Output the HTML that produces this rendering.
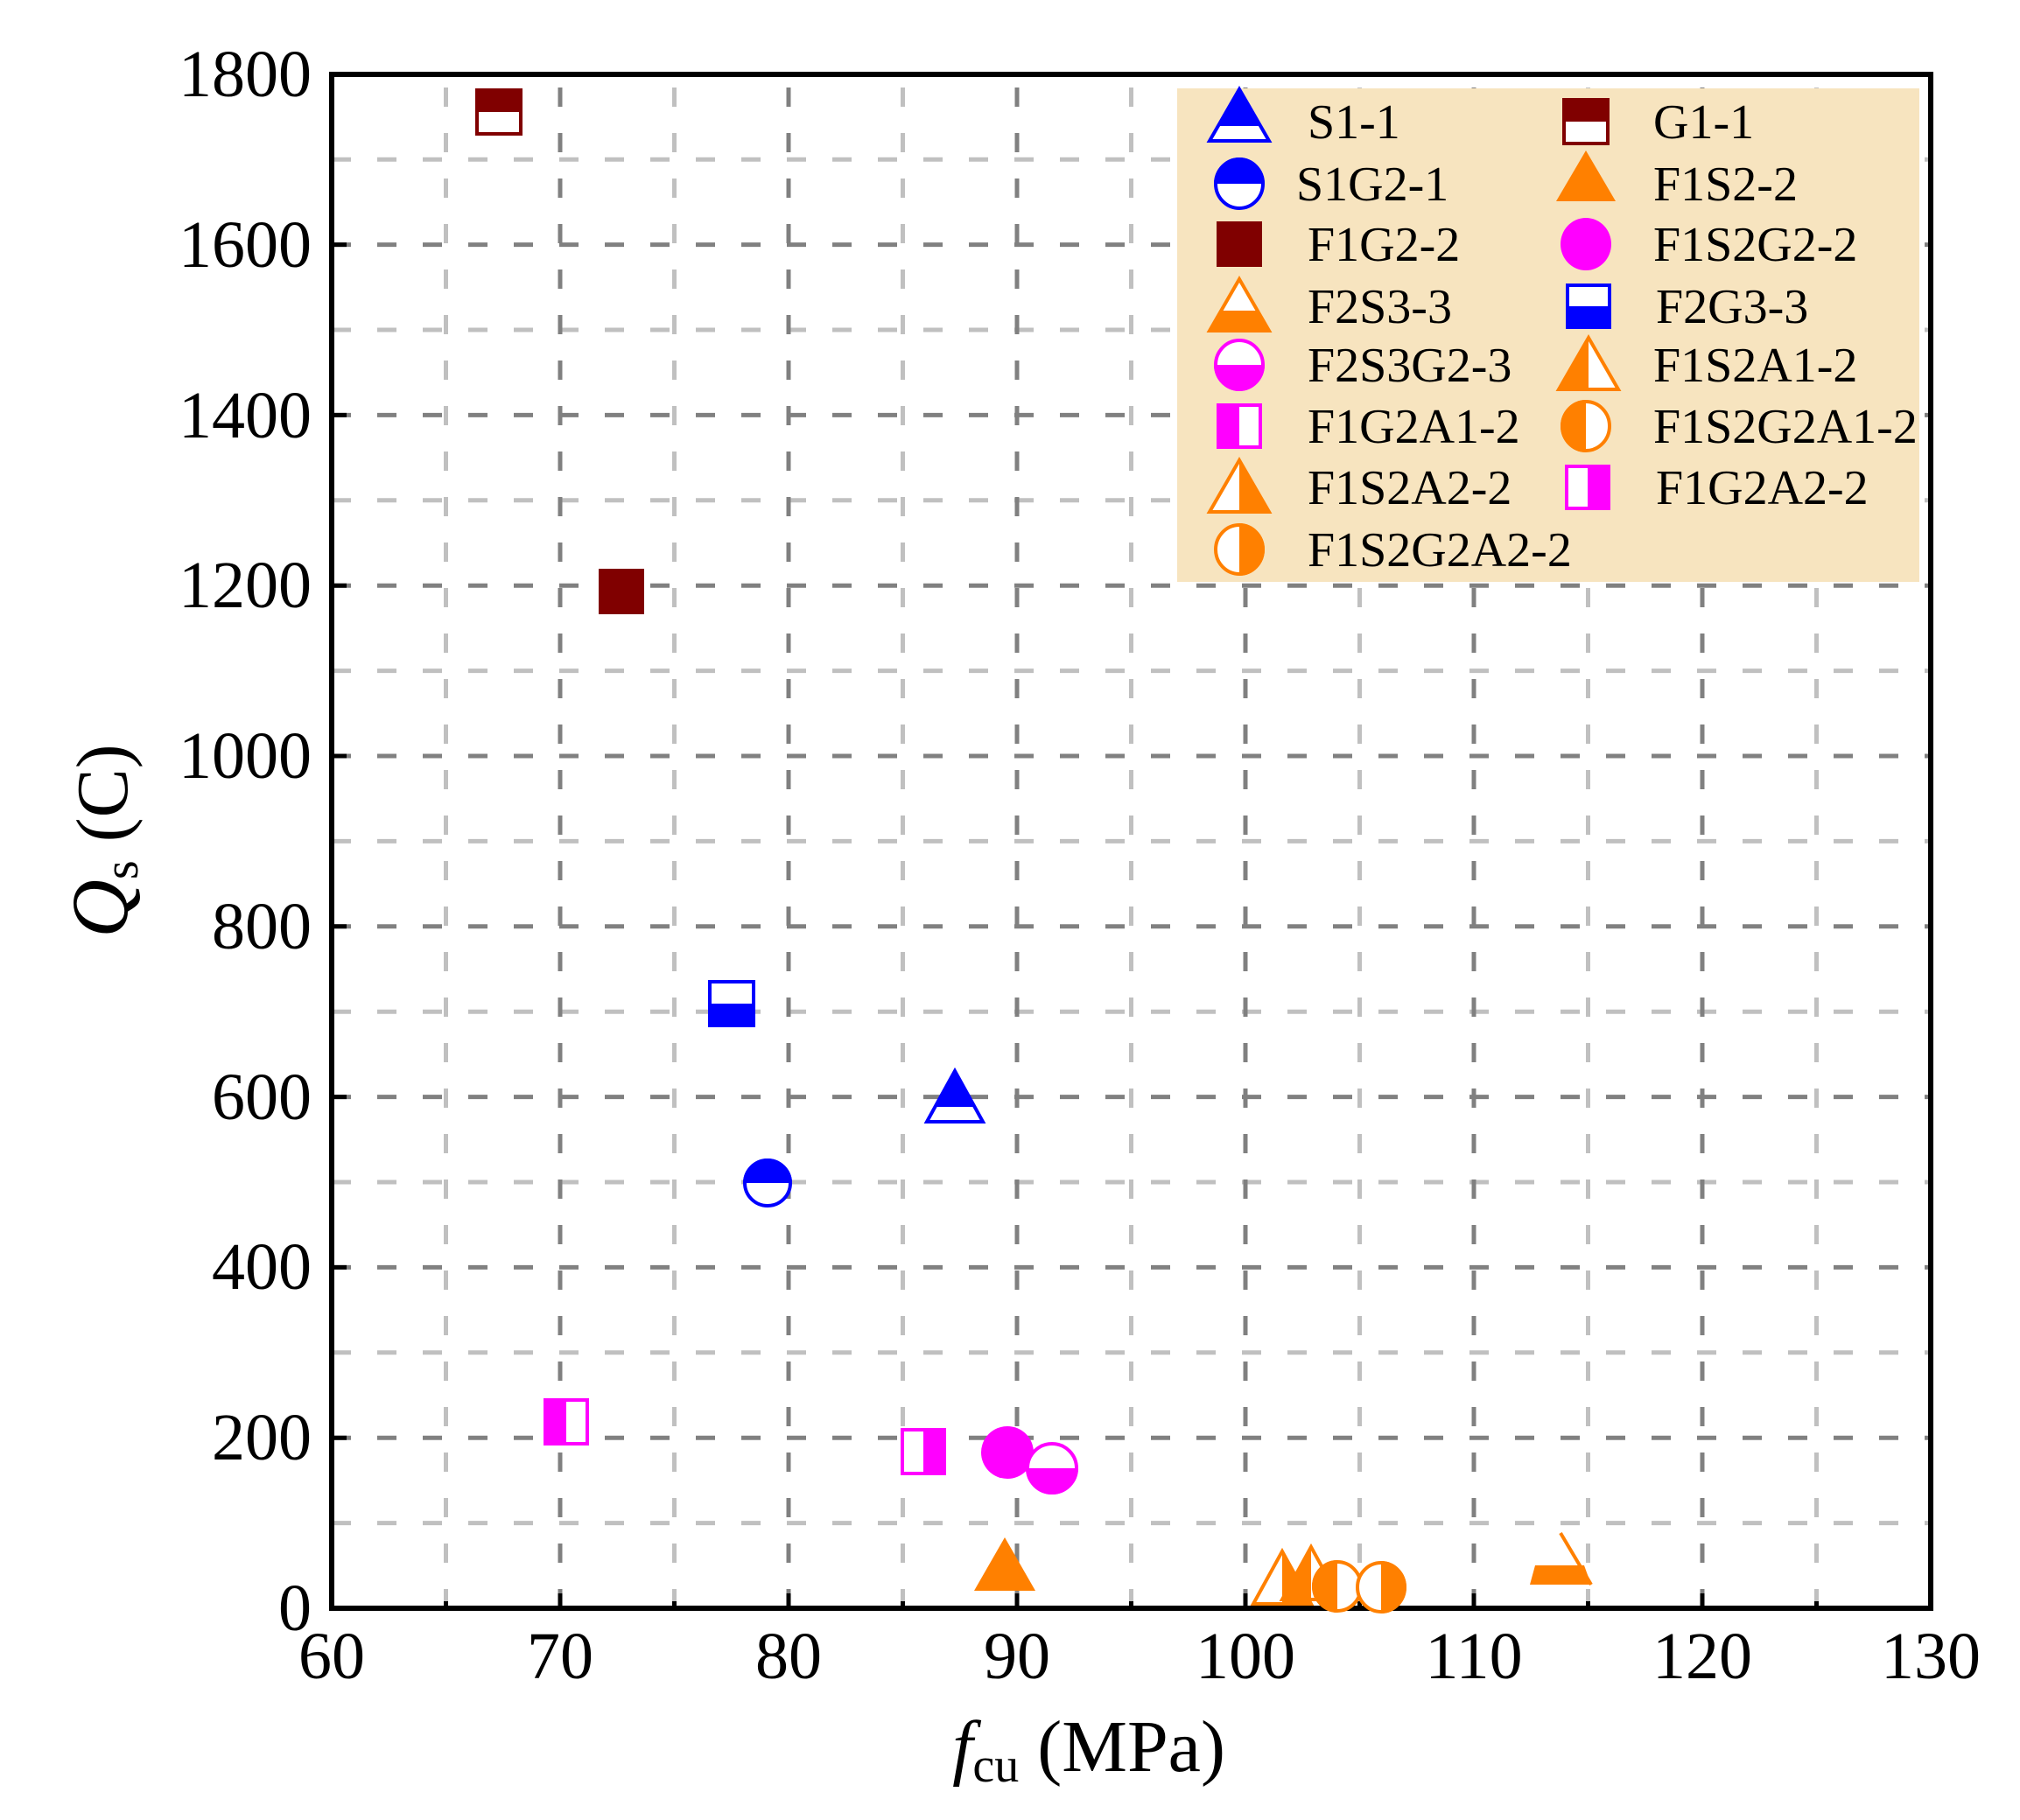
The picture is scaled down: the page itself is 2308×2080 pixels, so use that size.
<!DOCTYPE html>
<html><head><meta charset="utf-8"><style>
html,body{margin:0;padding:0;background:#fff;}
svg{display:block;}
text{font-family:"Liberation Serif",serif;fill:#000;}
</style></head><body>
<svg width="2308" height="2080" viewBox="0 0 2308 2080" xmlns="http://www.w3.org/2000/svg">
<defs>
<clipPath id="tTop"><rect x="-40" y="-40" width="80" height="45"/></clipPath>
<clipPath id="tTopP"><rect x="-40" y="-40" width="80" height="51"/></clipPath>
<clipPath id="tBot"><rect x="-40" y="5" width="80" height="45"/></clipPath>
<clipPath id="hTop"><rect x="-40" y="-40" width="80" height="40"/></clipPath>
<clipPath id="hBot"><rect x="-40" y="0" width="80" height="40"/></clipPath>
<clipPath id="hL"><rect x="-40" y="-40" width="40" height="80"/></clipPath>
<clipPath id="hR"><rect x="0" y="-40" width="40" height="80"/></clipPath>
</defs>
<g stroke="#c0c0c0" stroke-width="5" stroke-dasharray="22,30">
<line x1="509.5" y1="1838" x2="509.5" y2="85"/>
<line x1="770.5" y1="1838" x2="770.5" y2="85"/>
<line x1="1031.5" y1="1838" x2="1031.5" y2="85"/>
<line x1="1292.5" y1="1838" x2="1292.5" y2="85"/>
<line x1="1553.5" y1="1838" x2="1553.5" y2="85"/>
<line x1="1814.5" y1="1838" x2="1814.5" y2="85"/>
<line x1="2075.5" y1="1838" x2="2075.5" y2="85"/>
<line x1="379" y1="1740.6" x2="2206" y2="1740.6"/>
<line x1="379" y1="1545.8" x2="2206" y2="1545.8"/>
<line x1="379" y1="1351" x2="2206" y2="1351"/>
<line x1="379" y1="1156.2" x2="2206" y2="1156.2"/>
<line x1="379" y1="961.4" x2="2206" y2="961.4"/>
<line x1="379" y1="766.6" x2="2206" y2="766.6"/>
<line x1="379" y1="571.8" x2="2206" y2="571.8"/>
<line x1="379" y1="377" x2="2206" y2="377"/>
<line x1="379" y1="182.2" x2="2206" y2="182.2"/>
</g>
<g stroke="#808080" stroke-width="5" stroke-dasharray="22,30">
<line x1="640" y1="1838" x2="640" y2="85"/>
<line x1="901" y1="1838" x2="901" y2="85"/>
<line x1="1162" y1="1838" x2="1162" y2="85"/>
<line x1="1423" y1="1838" x2="1423" y2="85"/>
<line x1="1684" y1="1838" x2="1684" y2="85"/>
<line x1="1945" y1="1838" x2="1945" y2="85"/>
<line x1="379" y1="1643.2" x2="2206" y2="1643.2"/>
<line x1="379" y1="1448.4" x2="2206" y2="1448.4"/>
<line x1="379" y1="1253.6" x2="2206" y2="1253.6"/>
<line x1="379" y1="1058.8" x2="2206" y2="1058.8"/>
<line x1="379" y1="864" x2="2206" y2="864"/>
<line x1="379" y1="669.2" x2="2206" y2="669.2"/>
<line x1="379" y1="474.4" x2="2206" y2="474.4"/>
<line x1="379" y1="279.6" x2="2206" y2="279.6"/>
</g>
<rect x="1345" y="101" width="848" height="564" fill="#f7e4bf"/>
<g stroke="#000" stroke-width="5">
<path d="M640 1838v-17M901 1838v-17M1162 1838v-17M1423 1838v-17M1684 1838v-17M1945 1838v-17"/>
<path d="M509.5 1838v-8M770.5 1838v-8M1031.5 1838v-8M1292.5 1838v-8M1553.5 1838v-8M1814.5 1838v-8M2075.5 1838v-8"/>
<path d="M379 1643.2h17M379 1448.4h17M379 1253.6h17M379 1058.8h17M379 864h17M379 669.2h17M379 474.4h17M379 279.6h17"/>
</g>
<rect x="379" y="85" width="1827" height="1753" fill="none" stroke="#000" stroke-width="6"/>
<g font-size="76" text-anchor="end">
<text x="356" y="1863">0</text>
<text x="356" y="1668">200</text>
<text x="356" y="1473">400</text>
<text x="356" y="1279">600</text>
<text x="356" y="1084">800</text>
<text x="356" y="889">1000</text>
<text x="356" y="694">1200</text>
<text x="356" y="500">1400</text>
<text x="356" y="305">1600</text>
<text x="356" y="110">1800</text>
</g>
<g font-size="76" text-anchor="middle">
<text x="379" y="1918">60</text>
<text x="640" y="1918">70</text>
<text x="901" y="1918">80</text>
<text x="1162" y="1918">90</text>
<text x="1423" y="1918">100</text>
<text x="1684" y="1918">110</text>
<text x="1945" y="1918">120</text>
<text x="2206" y="1918">130</text>
</g>
<text x="1244" y="2024" font-size="84" text-anchor="middle"><tspan font-style="italic">f</tspan><tspan font-size="56" dy="12">cu</tspan><tspan dy="-12"> (MPa)</tspan></text>
<text transform="translate(145,961) rotate(-90)" font-size="84" text-anchor="middle"><tspan font-style="italic" font-size="92">Q</tspan><tspan font-size="56" dy="12">s</tspan><tspan dy="-12"> (C)</tspan></text>

<g transform="translate(570,128)"><rect x="-25" y="-25" width="50" height="50" fill="#fff" stroke="#800000" stroke-width="4"/><rect x="-25" y="-25" width="50" height="25" fill="#800000"/></g>
<rect x="684" y="650" width="52" height="52" fill="#800000"/>
<g transform="translate(836,1147)"><rect x="-25" y="-25" width="50" height="50" fill="#fff" stroke="#0000ff" stroke-width="4"/><rect x="-25" y="0" width="50" height="25" fill="#0000ff"/></g>
<g transform="translate(1091,1254)"><polygon points="0,-30 -32,28 32,28" fill="#fff" stroke="#0000ff" stroke-width="4"/><polygon points="0,-30 -32,28 32,28" fill="#0000ff" clip-path="url(#tTopP)"/></g>
<g transform="translate(877,1352)"><circle r="26" fill="#fff" stroke="#0000ff" stroke-width="4"/><circle r="28" fill="#0000ff" clip-path="url(#hTop)"/></g>
<g transform="translate(647,1625)"><rect x="-24" y="-25" width="48" height="50" fill="#fff" stroke="#ff00ff" stroke-width="4"/><rect x="-24" y="-25" width="24" height="50" fill="#ff00ff"/></g>
<g transform="translate(1055,1659)"><rect x="-24" y="-25" width="48" height="50" fill="#fff" stroke="#ff00ff" stroke-width="4"/><rect x="0" y="-25" width="24" height="50" fill="#ff00ff"/></g>
<ellipse cx="1151" cy="1660" rx="30" ry="30" fill="#ff00ff"/>
<g transform="translate(1202,1678)"><ellipse rx="28" ry="28" fill="#fff" stroke="#ff00ff" stroke-width="4"/><ellipse rx="30" ry="30" fill="#ff00ff" clip-path="url(#hBot)"/></g>
<polygon points="1148,1757 1113,1818 1183,1818" fill="#ff8000"/>
<g transform="translate(1465,1805)"><polygon points="0,-32 -33,28 33,28" fill="#fff" stroke="#ff8000" stroke-width="4"/><polygon points="0,-32 -33,28 33,28" fill="#ff8000" clip-path="url(#hR)"/></g>
<g transform="translate(1498,1800)"><polygon points="0,-32 -33,28 33,28" fill="#fff" stroke="#ff8000" stroke-width="4"/><polygon points="0,-32 -33,28 33,28" fill="#ff8000" clip-path="url(#hL)"/></g>
<g transform="translate(1528,1813)"><ellipse rx="27" ry="28" fill="#fff" stroke="#ff8000" stroke-width="4"/><ellipse rx="29" ry="30" fill="#ff8000" clip-path="url(#hL)"/></g>
<g transform="translate(1578,1814)"><ellipse rx="27" ry="28" fill="#fff" stroke="#ff8000" stroke-width="4"/><ellipse rx="29" ry="30" fill="#ff8000" clip-path="url(#hR)"/></g>
<g fill="#ff8000" stroke="#ff8000">
<polygon points="1754,1789 1810,1789 1818,1811 1748,1811" stroke="none"/>
<line x1="1783" y1="1752" x2="1818" y2="1811" stroke-width="4"/>
</g>

<g transform="translate(1416,139)"><polygon points="0,-37 -34,22 34,22" fill="#fff" stroke="#0000ff" stroke-width="4"/><polygon points="0,-37 -34,22 34,22" fill="#0000ff" clip-path="url(#tTop)"/></g>
<g transform="translate(1416,210)"><ellipse rx="27" ry="28" fill="#fff" stroke="#0000ff" stroke-width="4"/><ellipse rx="29" ry="30" fill="#0000ff" clip-path="url(#hTop)"/></g>
<rect x="1390" y="253" width="52" height="52" fill="#800000"/>
<g transform="translate(1416,350)"><polygon points="0,-31 -34,28 34,28" fill="#fff" stroke="#ff8000" stroke-width="4"/><polygon points="0,-31 -34,28 34,28" fill="#ff8000" clip-path="url(#tBot)"/></g>
<g transform="translate(1416,417)"><ellipse rx="27" ry="28" fill="#fff" stroke="#ff00ff" stroke-width="4"/><ellipse rx="29" ry="30" fill="#ff00ff" clip-path="url(#hBot)"/></g>
<g transform="translate(1416,487)"><rect x="-24" y="-24" width="48" height="48" fill="#fff" stroke="#ff00ff" stroke-width="4"/><rect x="-24" y="-24" width="24" height="48" fill="#ff00ff"/></g>
<g transform="translate(1416,557)"><polygon points="0,-31 -34,28 34,28" fill="#fff" stroke="#ff8000" stroke-width="4"/><polygon points="0,-31 -34,28 34,28" fill="#ff8000" clip-path="url(#hR)"/></g>
<g transform="translate(1416,628)"><ellipse rx="27" ry="28" fill="#fff" stroke="#ff8000" stroke-width="4"/><ellipse rx="29" ry="30" fill="#ff8000" clip-path="url(#hR)"/></g>

<g transform="translate(1812,139)"><rect x="-25" y="-25" width="50" height="50" fill="#fff" stroke="#800000" stroke-width="4"/><rect x="-25" y="-25" width="50" height="25" fill="#800000"/></g>
<polygon points="1812,172 1778,230 1846,230" fill="#ff8000"/>
<ellipse cx="1812" cy="279" rx="29" ry="30" fill="#ff00ff"/>
<g transform="translate(1815,350)"><rect x="-24" y="-24" width="48" height="48" fill="#fff" stroke="#0000ff" stroke-width="4"/><rect x="-24" y="0" width="48" height="24" fill="#0000ff"/></g>
<g transform="translate(1815,417)"><polygon points="0,-31 -34,28 34,28" fill="#fff" stroke="#ff8000" stroke-width="4"/><polygon points="0,-31 -34,28 34,28" fill="#ff8000" clip-path="url(#hL)"/></g>
<g transform="translate(1812,487)"><ellipse rx="27" ry="28" fill="#fff" stroke="#ff8000" stroke-width="4"/><ellipse rx="29" ry="30" fill="#ff8000" clip-path="url(#hL)"/></g>
<g transform="translate(1814,557)"><rect x="-24" y="-24" width="48" height="48" fill="#fff" stroke="#ff00ff" stroke-width="4"/><rect x="0" y="-24" width="24" height="48" fill="#ff00ff"/></g>

<g font-size="56">
<text x="1494" y="158">S1-1</text>
<text x="1481" y="229">S1G2-1</text>
<text x="1494" y="298">F1G2-2</text>
<text x="1494" y="369">F2S3-3</text>
<text x="1494" y="436">F2S3G2-3</text>
<text x="1494" y="506">F1G2A1-2</text>
<text x="1494" y="576">F1S2A2-2</text>
<text x="1494" y="647">F1S2G2A2-2</text>
<text x="1889" y="158">G1-1</text>
<text x="1889" y="229">F1S2-2</text>
<text x="1889" y="298">F1S2G2-2</text>
<text x="1892" y="369">F2G3-3</text>
<text x="1889" y="436">F1S2A1-2</text>
<text x="1889" y="506">F1S2G2A1-2</text>
<text x="1892" y="576">F1G2A2-2</text>
</g>
</svg>
</body></html>
